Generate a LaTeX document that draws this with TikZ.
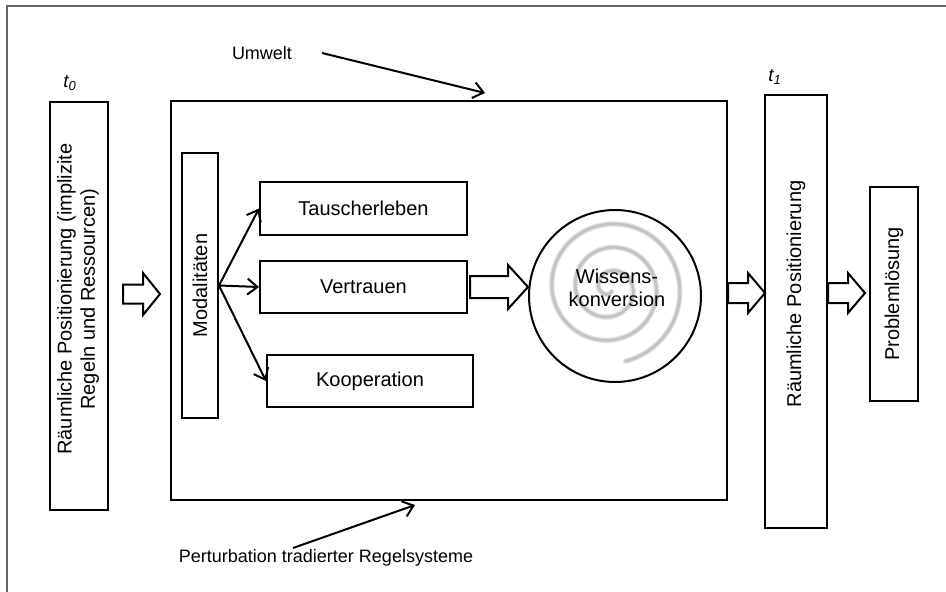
\documentclass[tikz,border=0pt]{standalone}
\usepackage{fontspec}
\setmainfont{Liberation Sans}
\usetikzlibrary{arrows.meta}
\newcommand{\openarrow}[6]{\draw[blk] (#1,#3-#4) -- (#2-#6,#3-#4) -- (#2-#6,#3-#5) -- (#2,#3) -- (#2-#6,#3+#5) -- (#2-#6,#3+#4) -- (#1,#3+#4) -- cycle;}
\begin{document}
\begin{tikzpicture}[x=0.75pt,y=-0.75pt,
 box/.style={draw, line width=1.5pt, inner sep=0pt, align=center, font=\fontsize{15}{17.5}\selectfont},
 lbl/.style={inner sep=0pt, align=center, font=\fontsize{15}{17.5}\selectfont},
 small/.style={inner sep=0pt, font=\fontsize{13.5}{16}\selectfont},
 tlabel/.style={inner sep=0pt, font=\fontsize{14}{16}\selectfont\itshape},
 conn/.style={line width=1.5pt, -{Straight Barb[length=7.5pt,width=12pt,line width=1.5pt]}},
 blk/.style={draw, line width=1.5pt, fill=white, line join=miter},
 spiralA/.style={draw=black!12, line width=4pt, line cap=round},
 spiralB/.style={draw=black!24, line width=2pt, line cap=round},
 ]
\useasboundingbox (0,0) rectangle (946,592);
% outer frame
\draw[line width=1.6pt, draw=black!60] (7,592) -- (7,6) -- (946,6);

% left box
\node[box, minimum width=43.5pt, minimum height=306pt] (lb) at (79,306) {};
\node[lbl, rotate=90] (lbt) at (78,299) {Räumliche Positionierung (implizite\\Regeln und Ressourcen)};
\node[tlabel] (t0) at (70,83) {t\textsubscript{0}};

% big box
\node[box, minimum width=417pt, minimum height=299.25pt] (big) at (449,300.5) {};

% Modalitaeten
\node[box, rotate=90, minimum width=198.75pt, minimum height=27pt] (mod) at (200,285.5) {Modalitäten};

% three boxes
\node[box, minimum width=155.25pt, minimum height=39.75pt] (tau) at (363.5,208.5) {Tauscherleben};
\node[box, minimum width=155.25pt, minimum height=39pt] (ver) at (363.5,287) {Vertrauen};
\node[box, minimum width=154.5pt, minimum height=39pt] (koo) at (370,381) {Kooperation};

\draw[conn] (mod.south) -- (tau.west);
\draw[conn] (mod.south) -- (ver.west);
\draw[conn] (mod.south) -- (koo.west);

% spiral
\draw[spiralA] plot[domain=0.05:1, samples=240, smooth] ({610 + 75*\x*cos(-80+(1-\x)*1152)}, {288 - 75*\x*sin(-80+(1-\x)*1152)});
\draw[spiralB] plot[domain=0.05:1, samples=240, smooth] ({610 + 75*\x*cos(-80+(1-\x)*1152)}, {288 - 75*\x*sin(-80+(1-\x)*1152)});

% circle
\node[draw, circle, line width=1.5pt, minimum size=129pt, inner sep=0pt] (wis) at (615,296) {};
\node[lbl] (wist) at (617,288) {Wissens-\\konversion};

% right box
\node[box, minimum width=46.5pt, minimum height=324.75pt] (rb) at (796,311.5) {};
\node[lbl, rotate=90] (rbt) at (796,294) {Räumliche Positionierung};
\node[tlabel] (t1) at (775,77) {t\textsubscript{1}};

% Problemloesung
\node[box, rotate=90, minimum width=160.5pt, minimum height=36pt] (pro) at (894,294) {Problemlösung};

% block arrows
\openarrow{123}{160}{294}{9.5}{21}{17}
\openarrow{470}{528}{287}{11}{22}{20}
\openarrow{728}{765}{293}{10}{20}{17}
\openarrow{828}{865}{293}{10}{20}{17}

% Umwelt
\node[small] (um) at (262,53) {Umwelt};
\coordinate (umS) at (322,53);
\coordinate (umT) at (485,93);
\draw[conn] (umS) -- (umT);

% Perturbation
\node[small] (pe) at (326,558) {Perturbation tradierter Regelsysteme};
\coordinate (peS) at (293,548);
\coordinate (peT) at (415,505);
\draw[conn] (peS) -- (peT);
\end{tikzpicture}
\end{document}
